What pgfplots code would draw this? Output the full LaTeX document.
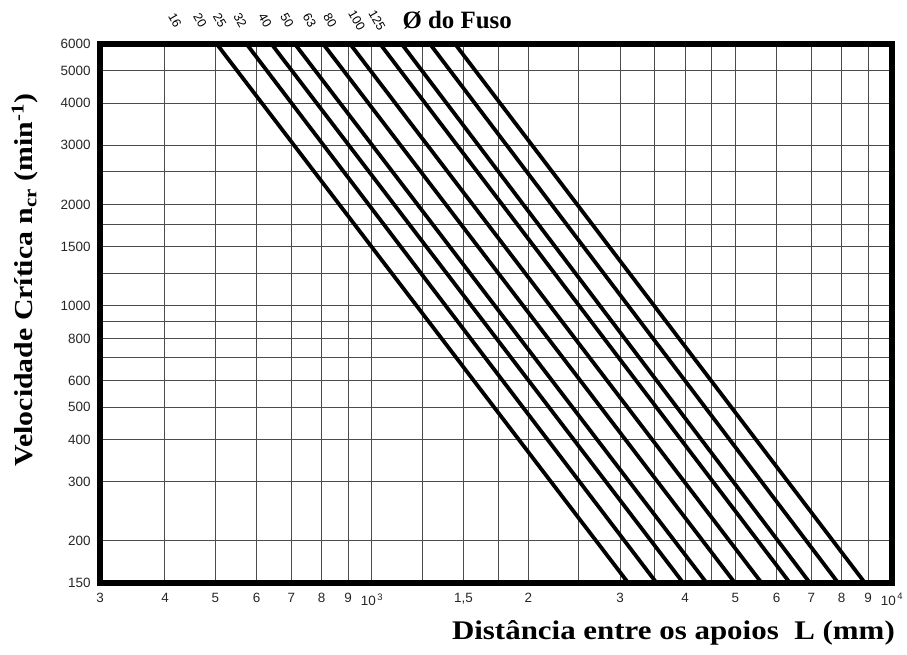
\documentclass[border=0pt]{standalone}
\usepackage{fontspec}
\setmainfont{Liberation Serif}
\newfontfamily\tickfont{Liberation Sans}
\newfontfamily\titlefont{Liberation Serif}[FakeStretch=1.15]
\usepackage{pgfplots}
\pgfplotsset{compat=1.18}
\begin{document}
\begin{tikzpicture}
\begin{axis}[
  xmode=log, ymode=log,
  scale only axis, width=792bp, height=539bp,
  xmin=300, xmax=10000, ymin=150, ymax=6000,
  xtick={300,400,500,600,700,800,900,1000,1250,1500,1750,2000,2500,3000,3500,4000,4500,5000,6000,7000,8000,9000,10000},
  xticklabels={3,4,5,6,7,8,9,{10\textsuperscript{\,3}},,{1,5},,2,,3,,4,,5,6,7,8,9,{10\textsuperscript{\,4}}},
  ytick={150,200,300,400,500,600,700,800,900,1000,1250,1500,1750,2000,2500,3000,4000,5000,6000},
  yticklabels={150,200,300,400,500,600,,800,,1000,,1500,,2000,,3000,4000,5000,6000},
  xminorticks=false, yminorticks=false,
  grid=major,
  major grid style={black!70, line width=1bp},
  major tick length=0pt,
  axis line style={line width=6bp},
  clip=false,
  ticklabel style={font=\tickfont\fontsize{13.5}{15}\selectfont, text=black!85},
  xticklabel style={yshift=-7bp},
  yticklabel style={xshift=-6bp},
]
\coordinate (bl) at (rel axis cs:0,0);
\coordinate (tr) at (rel axis cs:1,1);
% Ø 16
\addplot[black, line width=3.8bp] coordinates {(503,6000) (3111,150)};
% Ø 20
\addplot[black, line width=3.8bp] coordinates {(574,6000) (3527,150)};
% Ø 25
\addplot[black, line width=3.8bp] coordinates {(641,6000) (3969,150)};
% Ø 32
\addplot[black, line width=3.8bp] coordinates {(711,6000) (4402,150)};
% Ø 40
\addplot[black, line width=3.8bp] coordinates {(806,6000) (4989,150)};
% Ø 50
\addplot[black, line width=3.8bp] coordinates {(908,6000) (5615,150)};
% Ø 63
\addplot[black, line width=3.8bp] coordinates {(1037,6000) (6366,150)};
% Ø 80
\addplot[black, line width=3.8bp] coordinates {(1141,6000) (6954,150)};
% Ø 100
\addplot[black, line width=3.8bp] coordinates {(1293,6000) (7883,150)};
% Ø 125
\addplot[black, line width=3.8bp] coordinates {(1445,6000) (8873,150)};

\begin{scope}[every node/.style={rotate=-60, inner sep=0pt, font=\tickfont\fontsize{12.5}{13}\selectfont}]
\node at ([yshift=24bp]axis cs:418,6000) {16};
\node at ([yshift=24bp]axis cs:467,6000) {20};
\node at ([yshift=24bp]axis cs:510,6000) {25};
\node at ([yshift=24bp]axis cs:558,6000) {32};
\node at ([yshift=24bp]axis cs:623,6000) {40};
\node at ([yshift=24bp]axis cs:687,6000) {50};
\node at ([yshift=24bp]axis cs:759,6000) {63};
\node at ([yshift=24bp]axis cs:831,6000) {80};
\node at ([yshift=24bp]axis cs:935,6000) {100};
\node at ([yshift=24bp]axis cs:1023,6000) {125};
\end{scope}
\node[font=\bfseries\fontsize{25}{27}\selectfont] at ([yshift=24bp]rel axis cs:0.451,1) {Ø do Fuso};
\node[anchor=east, inner sep=0pt, font=\titlefont\bfseries\fontsize{27}{29}\selectfont] at ([xshift=3bp,yshift=-50bp]rel axis cs:1,0) {Distância entre os apoios\ \ L (mm)};
\node[rotate=90, font=\titlefont\bfseries\fontsize{26}{28}\selectfont] at ([xshift=-75bp]rel axis cs:0,0.562) {Velocidade Crítica n\textsubscript{cr} (min\textsuperscript{-1})};
\end{axis}
\pgfresetboundingbox
\path ([shift={(-100bp,-72bp)}]bl) rectangle ([shift={(15bp,44bp)}]tr);
\end{tikzpicture}
\end{document}
